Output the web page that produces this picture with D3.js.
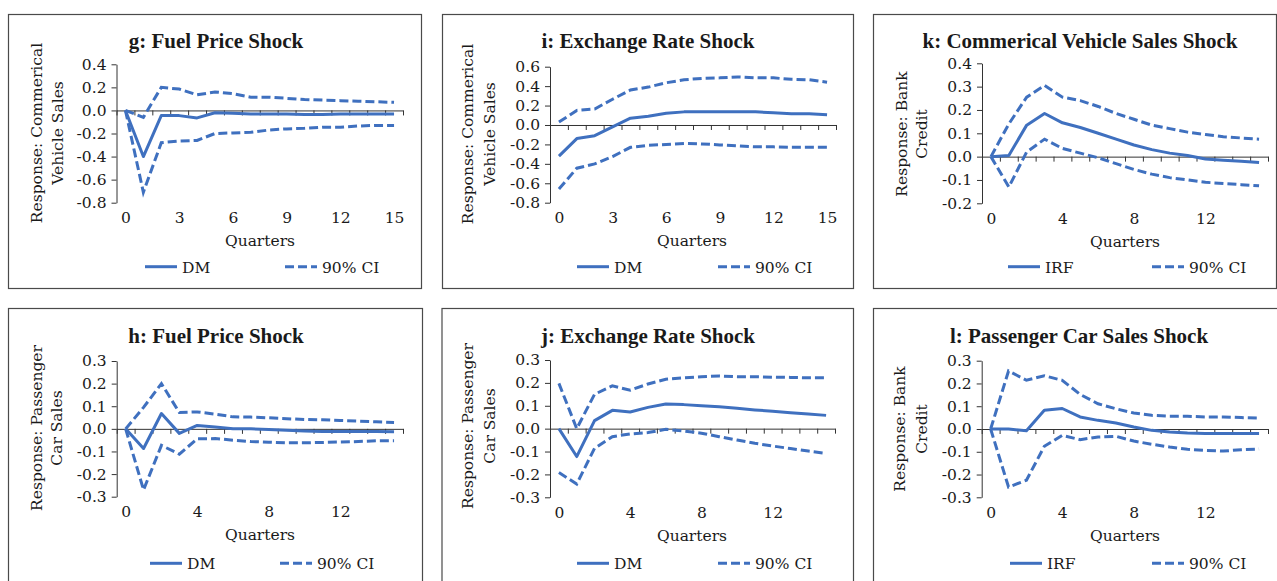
<!DOCTYPE html>
<html>
<head>
<meta charset="utf-8">
<script src="https://cdn.jsdelivr.net/npm/d3@7"></script>
<style>
  body { margin: 0; background: #fff; }
  svg { display: block; }
  text { font-family: "DejaVu Serif", serif; fill: #1a1a1a; }
  .title { font-family: "Liberation Serif", serif; font-weight: bold; font-size: 21px; }
  .tick text, .lbl { font-size: 15.5px; }
</style>
</head>
<body>
<svg id="chart" width="1277" height="581"></svg>
<script>
// Horizon in quarters after the shock
const quarters = [0, 1, 2, 3, 4, 5, 6, 7, 8, 9, 10, 11, 12, 13, 14, 15];

// g: fuel price shock -> commercial vehicle sales
const fuelCvDM = [0, -0.40, -0.045, -0.045, -0.065, -0.02, -0.025, -0.03, -0.03, -0.03, -0.035, -0.035, -0.03, -0.03, -0.03, -0.03];
const fuelCvUp = [0, -0.06, 0.20, 0.185, 0.135, 0.16, 0.145, 0.115, 0.115, 0.105, 0.095, 0.09, 0.085, 0.08, 0.075, 0.07];
const fuelCvLo = [0, -0.71, -0.28, -0.265, -0.26, -0.20, -0.195, -0.19, -0.17, -0.16, -0.155, -0.145, -0.145, -0.135, -0.13, -0.13];

// i: exchange rate shock -> commercial vehicle sales
const exCvDM = [-0.32, -0.14, -0.11, -0.02, 0.07, 0.09, 0.12, 0.135, 0.135, 0.135, 0.135, 0.135, 0.125, 0.115, 0.115, 0.105];
const exCvUp = [0.03, 0.15, 0.165, 0.265, 0.36, 0.39, 0.435, 0.465, 0.48, 0.485, 0.495, 0.485, 0.485, 0.47, 0.465, 0.44];
const exCvLo = [-0.66, -0.445, -0.40, -0.325, -0.23, -0.21, -0.20, -0.19, -0.195, -0.205, -0.215, -0.225, -0.225, -0.23, -0.23, -0.23];

// k: commercial vehicle sales shock -> bank credit
const cvCreditIRF = [0, 0.005, 0.135, 0.185, 0.145, 0.125, 0.10, 0.075, 0.05, 0.03, 0.015, 0.005, -0.01, -0.015, -0.02, -0.025];
const cvCreditUp = [0, 0.14, 0.255, 0.305, 0.255, 0.24, 0.215, 0.185, 0.16, 0.135, 0.12, 0.105, 0.095, 0.085, 0.08, 0.075];
const cvCreditLo = [0, -0.13, 0.02, 0.075, 0.035, 0.015, -0.005, -0.03, -0.055, -0.075, -0.09, -0.10, -0.11, -0.115, -0.12, -0.125];

// h: fuel price shock -> passenger car sales
const fuelPcDM = [0, -0.087, 0.068, -0.02, 0.015, 0.008, 0.0, 0.0, -0.003, -0.006, -0.009, -0.012, -0.012, -0.012, -0.012, -0.013];
const fuelPcUp = [0, 0.095, 0.20, 0.072, 0.075, 0.065, 0.053, 0.052, 0.049, 0.045, 0.041, 0.04, 0.037, 0.034, 0.031, 0.028];
const fuelPcLo = [0, -0.27, -0.073, -0.112, -0.044, -0.043, -0.05, -0.056, -0.059, -0.062, -0.062, -0.06, -0.058, -0.056, -0.053, -0.053];

// j: exchange rate shock -> passenger car sales
const exPcDM = [0, -0.122, 0.035, 0.08, 0.073, 0.093, 0.108, 0.105, 0.10, 0.096, 0.089, 0.082, 0.076, 0.07, 0.064, 0.058];
const exPcUp = [0.198, 0.0, 0.15, 0.187, 0.168, 0.195, 0.216, 0.222, 0.227, 0.23, 0.227, 0.227, 0.225, 0.224, 0.222, 0.222];
const exPcLo = [-0.192, -0.242, -0.086, -0.035, -0.023, -0.017, -0.003, -0.01, -0.02, -0.035, -0.05, -0.064, -0.076, -0.087, -0.098, -0.108];

// l: passenger car sales shock -> bank credit
const pcCreditIRF = [0, 0.0, -0.008, 0.082, 0.09, 0.053, 0.038, 0.026, 0.009, -0.006, -0.013, -0.018, -0.02, -0.02, -0.02, -0.02];
const pcCreditUp = [0, 0.255, 0.214, 0.234, 0.214, 0.152, 0.111, 0.089, 0.07, 0.06, 0.056, 0.056, 0.053, 0.053, 0.05, 0.048];
const pcCreditLo = [0, -0.255, -0.225, -0.076, -0.028, -0.047, -0.035, -0.032, -0.053, -0.067, -0.079, -0.089, -0.094, -0.097, -0.091, -0.088];

// Tick labels
const yTicksCv = [-0.8, -0.6, -0.4, -0.2, 0.0, 0.2, 0.4];
const yTicksCvEx = [-0.8, -0.6, -0.4, -0.2, 0.0, 0.2, 0.4, 0.6];
const yTicksCvCredit = [-0.2, -0.1, 0.0, 0.1, 0.2, 0.3, 0.4];
const yTicksPc = [-0.3, -0.2, -0.1, 0.0, 0.1, 0.2, 0.3];
const xLabelsEvery3 = [0, 3, 6, 9, 12, 15];
const xLabelsEvery4 = [0, 4, 8, 12];

const BLUE = "#3f70bf";
const AXIS = "#333";

const panels = [
  { title: "g: Fuel Price Shock", yTitle: ["Response: Commerical", "Vehicle Sales"], key: "DM",
    mid: fuelCvDM, up: fuelCvUp, lo: fuelCvLo, yTicks: yTicksCv, xLabels: xLabelsEvery3,
    box: [8.5, 14.5, 413, 274], x0: 116.5, x1: 403, yTop: 64.3, yBot: 202.7,
    titleX: 216, titleY: 48, yTitleX: [37, 58], yTitleY: 133, qX: 260,
    legY: 266.7, legSolid: 145, legDash: 285 },
  { title: "i: Exchange Rate Shock", yTitle: ["Response: Commerical", "Vehicle Sales"], key: "DM",
    mid: exCvDM, up: exCvUp, lo: exCvLo, yTicks: yTicksCvEx, xLabels: xLabelsEvery3,
    box: [442.5, 14.5, 411, 274], x0: 550, x1: 836, yTop: 66.7, yBot: 202.7,
    titleX: 648, titleY: 48, yTitleX: [468, 490], yTitleY: 134, qX: 692,
    legY: 266.7, legSolid: 577, legDash: 718 },
  { title: "k: Commerical Vehicle Sales Shock", yTitle: ["Response: Bank", "Credit"], key: "IRF",
    mid: cvCreditIRF, up: cvCreditUp, lo: cvCreditLo, yTicks: yTicksCvCredit, xLabels: xLabelsEvery4,
    box: [873.5, 14.5, 403, 274], x0: 982, x1: 1268, yTop: 63.3, yBot: 203.3,
    titleX: 1080, titleY: 48, yTitleX: [902, 922], yTitleY: 134, qX: 1125,
    legY: 266.7, legSolid: 1008, legDash: 1152 },
  { title: "h: Fuel Price Shock", yTitle: ["Response: Passenger", "Car Sales"], key: "DM",
    mid: fuelPcDM, up: fuelPcUp, lo: fuelPcLo, yTicks: yTicksPc, xLabels: xLabelsEvery4,
    box: [8.5, 308.5, 414, 300], x0: 116.7, x1: 403, yTop: 361, yBot: 496.7,
    titleX: 216, titleY: 343, yTitleX: [37, 57], yTitleY: 428, qX: 260,
    legY: 563.3, legSolid: 150, legDash: 280 },
  { title: "j: Exchange Rate Shock", yTitle: ["Response: Passenger", "Car Sales"], key: "DM",
    mid: exPcDM, up: exPcUp, lo: exPcLo, yTicks: yTicksPc, xLabels: xLabelsEvery4,
    box: [442, 308.5, 411.5, 300], x0: 550, x1: 835, yTop: 360, yBot: 497.3,
    titleX: 648, titleY: 343, yTitleX: [468, 490], yTitleY: 426, qX: 692,
    legY: 563.3, legSolid: 577, legDash: 718 },
  { title: "l: Passenger Car Sales Shock", yTitle: ["Response: Bank", "Credit"], key: "IRF",
    mid: pcCreditIRF, up: pcCreditUp, lo: pcCreditLo, yTicks: yTicksPc, xLabels: xLabelsEvery4,
    box: [873.5, 308.5, 410, 300], x0: 981.7, x1: 1268, yTop: 360.7, yBot: 497.3,
    titleX: 1079, titleY: 343, yTitleX: [900, 922], yTitleY: 429, qX: 1125,
    legY: 563.3, legSolid: 1010, legDash: 1152 }
];

const svg = d3.select("#chart");

panels.forEach(p => {
  const g = svg.append("g");

  // frame around each panel
  g.append("rect")
    .attr("x", p.box[0]).attr("y", p.box[1])
    .attr("width", p.box[2]).attr("height", p.box[3])
    .attr("fill", "none").attr("stroke", "#4a4a4a").attr("stroke-width", 1.2);

  // category axis: each quarter sits in the middle of its slot
  const x = d3.scaleLinear().domain([-0.5, quarters.length - 0.5]).range([p.x0, p.x1]);
  const y = d3.scaleLinear().domain(d3.extent(p.yTicks)).range([p.yBot, p.yTop]);

  // y axis
  g.append("g")
    .attr("transform", `translate(${p.x0},0)`)
    .call(d3.axisLeft(y).tickValues(p.yTicks).tickSizeInner(5).tickSizeOuter(0)
      .tickPadding(5).tickFormat(d => d.toFixed(1)))
    .call(a => a.selectAll("line,path").attr("stroke", AXIS))
    .call(a => a.selectAll("text").attr("fill", "#1a1a1a").style("font-family", "DejaVu Serif"));

  // zero line with tick marks between quarters
  const bounds = d3.range(quarters.length + 1).map(i => i - 0.5);
  g.append("g")
    .attr("transform", `translate(0,${y(0)})`)
    .call(d3.axisBottom(x).tickValues(bounds).tickSizeInner(5).tickSizeOuter(0).tickFormat(""))
    .call(a => a.selectAll("line,path").attr("stroke", AXIS));

  // quarter labels below the plot
  g.append("g")
    .attr("transform", `translate(0,${p.yBot})`)
    .call(d3.axisBottom(x).tickValues(p.xLabels).tickSize(0).tickPadding(9.6).tickFormat(d3.format("d")))
    .call(a => a.select(".domain").remove())
    .call(a => a.selectAll("text").attr("fill", "#1a1a1a").style("font-family", "DejaVu Serif"));

  // series
  const line = d3.line().x((d, i) => x(quarters[i])).y(d => y(d));
  [p.up, p.lo].forEach(s => {
    g.append("path").attr("d", line(s))
      .attr("fill", "none").attr("stroke", BLUE).attr("stroke-width", 3)
      .attr("stroke-dasharray", "9,4");
  });
  g.append("path").attr("d", line(p.mid))
    .attr("fill", "none").attr("stroke", BLUE).attr("stroke-width", 3)
    .attr("stroke-linejoin", "round");

  // title
  g.append("text").attr("class", "title")
    .attr("x", p.titleX).attr("y", p.titleY).attr("text-anchor", "middle")
    .text(p.title);

  // y-axis title, two rotated lines
  p.yTitle.forEach((t, k) => {
    g.append("text").attr("class", "lbl")
      .attr("transform", `translate(${p.yTitleX[k] + 5},${p.yTitleY}) rotate(-90)`)
      .attr("text-anchor", "middle")
      .text(t);
  });

  // x-axis title
  g.append("text").attr("class", "lbl")
    .attr("x", p.qX).attr("y", p.yBot + 43.5).attr("text-anchor", "middle")
    .text("Quarters");

  // legend
  g.append("line")
    .attr("x1", p.legSolid).attr("x2", p.legSolid + 32)
    .attr("y1", p.legY).attr("y2", p.legY)
    .attr("stroke", BLUE).attr("stroke-width", 3);
  g.append("text").attr("class", "lbl")
    .attr("x", p.legSolid + 37).attr("y", p.legY + 6)
    .text(p.key);
  g.append("line")
    .attr("x1", p.legDash).attr("x2", p.legDash + 32)
    .attr("y1", p.legY).attr("y2", p.legY)
    .attr("stroke", BLUE).attr("stroke-width", 3).attr("stroke-dasharray", "9,4");
  g.append("text").attr("class", "lbl")
    .attr("x", p.legDash + 37).attr("y", p.legY + 6)
    .text("90% CI");
});
</script>
</body>
</html>
